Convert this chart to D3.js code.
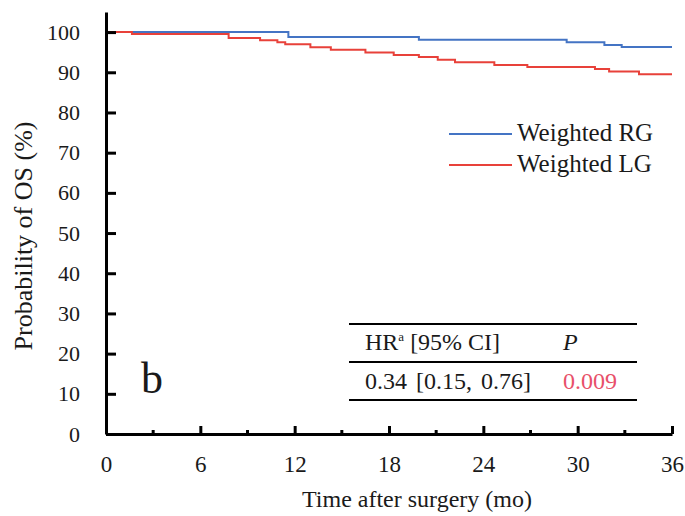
<!DOCTYPE html>
<html>
<meta charset="utf-8"/>
<head>
  <title>Weighted OS</title>
  <script src="https://d3js.org/d3.v7.min.js"></script>
  <style>
    body { margin: 0; background: #fff; }
    svg text { font-family: "Liberation Serif", "Times New Roman", "DejaVu Serif", serif; }
  </style>
</head>
<body>
<script>
  // step curves (months, % survival)
  var rgTime = [0, 11.6, 19.9, 29.3, 31.7, 32.8, 36];
  var rgSurv = [100, 98.8, 98.1, 97.5, 96.8, 96.3, 96.3];
  var lgTime = [0, 1.65, 7.8, 9.8, 10.9, 11.4, 13.0, 14.3, 16.5, 18.3, 19.9, 21.1, 22.2, 24.7, 26.8, 31.1, 32.0, 33.9, 36];
  var lgSurv = [100, 99.5, 98.5, 98.0, 97.5, 97.0, 96.2, 95.6, 94.9, 94.3, 93.8, 93.1, 92.5, 91.8, 91.3, 90.8, 90.2, 89.5, 89.5];

  var seriesNames = ['Weighted RG', 'Weighted LG'];
  var seriesColors = ['#4474c4', '#e8413a'];
  var xTicks = [0, 6, 12, 18, 24, 30, 36];
  var xMinorTicks = [3, 9, 15, 21, 27, 33];
  var yTicks = [0, 10, 20, 30, 40, 50, 60, 70, 80, 90, 100];
  var tableHead = ['HR', 'a', ' [95% CI]', 'P'];
  var tableRow = ['0.34 [0.15, 0.76]', '0.009'];

  var serif = '"Liberation Serif", "Times New Roman", "DejaVu Serif", serif';
  var W = 685, H = 516;
  var svg = d3.select('body').append('svg')
      .attr('width', W).attr('height', H)
      .attr('font-family', serif);

  var x = d3.scaleLinear().domain([0, 36]).range([106, 672]);
  var y = d3.scaleLinear().domain([0, 105]).range([434, 12]);

  // curves
  var line = d3.line()
      .x(function(d) { return x(d[0]); })
      .y(function(d) { return y(d[1]); })
      .curve(d3.curveStepAfter);

  var rg = rgTime.map(function(t, i) { return [t, rgSurv[i]]; });
  var lg = lgTime.map(function(t, i) { return [t, lgSurv[i]]; });
  [rg, lg].forEach(function(s, i) {
    svg.append('path')
      .attr('d', line(s))
      .attr('fill', 'none')
      .attr('stroke', seriesColors[i])
      .attr('stroke-width', 2);
  });

  // y axis, ticks pointing inward
  var yAxis = svg.append('g')
      .attr('transform', 'translate(' + x(0) + ',0)')
      .call(d3.axisLeft(y).tickValues(yTicks).tickSizeInner(-10).tickSizeOuter(0).tickPadding(26));
  yAxis.attr('font-family', serif).attr('font-size', 22);
  yAxis.select('.domain').attr('stroke', '#000').attr('stroke-width', 3);
  yAxis.selectAll('.tick line').attr('stroke', '#000').attr('stroke-width', 3);
  yAxis.selectAll('.tick text').attr('fill', '#1a1a1a');

  // x axis
  var xAxis = svg.append('g')
      .attr('transform', 'translate(0,' + y(0) + ')')
      .call(d3.axisBottom(x).tickValues(xTicks).tickSizeInner(-8).tickSizeOuter(0).tickPadding(22));
  xAxis.attr('font-family', serif).attr('font-size', 23);
  xAxis.select('.domain').attr('stroke', '#000').attr('stroke-width', 3);
  xAxis.selectAll('.tick line').attr('stroke', '#000').attr('stroke-width', 3);
  xAxis.selectAll('.tick text').attr('fill', '#1a1a1a');

  svg.append('g').selectAll('line')
      .data(xMinorTicks).join('line')
      .attr('x1', function(d) { return x(d); })
      .attr('x2', function(d) { return x(d); })
      .attr('y1', y(0)).attr('y2', y(0) - 4)
      .attr('stroke', '#000').attr('stroke-width', 3);

  // axis titles
  svg.append('text')
      .attr('x', 302).attr('y', 507)
      .attr('font-size', 24)
      .attr('fill', '#1a1a1a')
      .text('Time after surgery (mo)');
  svg.append('text')
      .attr('transform', 'translate(32,236) rotate(-90)')
      .attr('text-anchor', 'middle')
      .attr('font-size', 26)
      .attr('fill', '#1a1a1a')
      .text('Probability of OS (%)');

  // legend
  var leg = svg.append('g').attr('transform', 'translate(449,134)');
  seriesNames.forEach(function(n, i) {
    leg.append('line')
      .attr('x1', 0).attr('x2', 63)
      .attr('y1', i * 31).attr('y2', i * 31)
      .attr('stroke', seriesColors[i]).attr('stroke-width', 2);
    leg.append('text')
      .attr('x', 68).attr('y', i * 31 + 7)
      .attr('font-size', 25)
      .attr('fill', '#1a1a1a')
      .text(n);
  });

  // panel letter
  svg.append('text')
      .attr('x', 141).attr('y', 393)
      .attr('font-size', 44)
      .attr('fill', '#1a1a1a')
      .text('b');

  // HR table
  var tb = svg.append('g');
  [324, 362, 400].forEach(function(ly) {
    tb.append('line')
      .attr('x1', 349).attr('x2', 637)
      .attr('y1', ly).attr('y2', ly)
      .attr('stroke', '#000').attr('stroke-width', 2);
  });
  var hd = tb.append('text').attr('x', 365).attr('y', 350).attr('font-size', 24).attr('fill', '#1a1a1a');
  hd.append('tspan').text(tableHead[0]);
  hd.append('tspan').attr('font-size', 13).attr('dy', -9).text(tableHead[1]);
  hd.append('tspan').attr('dy', 9).text(tableHead[2]);
  tb.append('text')
      .attr('x', 563).attr('y', 350).attr('font-size', 24)
      .attr('font-style', 'italic').attr('fill', '#1a1a1a')
      .text(tableHead[3]);
  tb.append('text')
      .attr('x', 365).attr('y', 389).attr('font-size', 24)
      .attr('word-spacing', 3)
      .attr('fill', '#1a1a1a')
      .text(tableRow[0]);
  tb.append('text')
      .attr('x', 563).attr('y', 389).attr('font-size', 24)
      .attr('fill', '#e8506a')
      .text(tableRow[1]);
</script>
</body>
</html>
